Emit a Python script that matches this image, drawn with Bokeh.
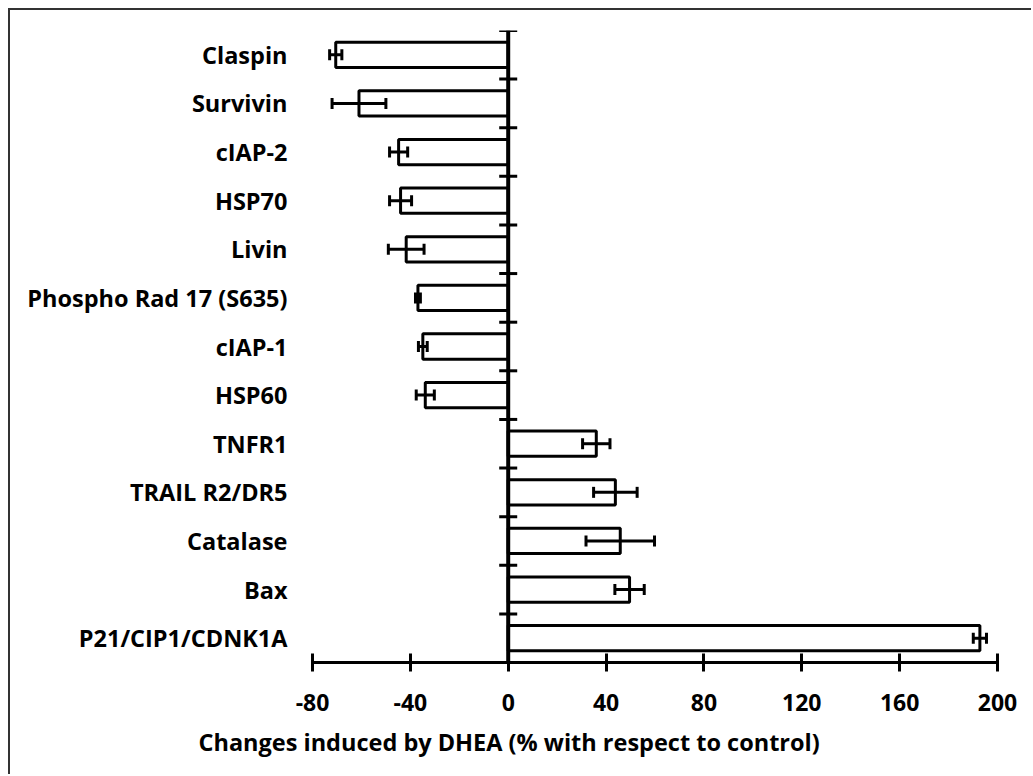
from bokeh.plotting import figure
from bokeh.models import Range1d, FixedTicker, Span, Whisker, TeeHead, ColumnDataSource, Title
from bokeh.embed import file_html
from bokeh.resources import INLINE

categories = ["Claspin", "Survivin", "cIAP-2", "HSP70", "Livin", "Phospho Rad 17 (S635)",
              "cIAP-1", "HSP60", "TNFR1", "TRAIL R2/DR5", "Catalase", "Bax", "P21/CIP1/CDNK1A"]
values = [-70.5, -61.0, -44.8, -44.0, -41.7, -36.9, -34.9, -33.9, 36.0, 43.8, 45.8, 49.6, 192.8]
errors = [2.5, 11.0, 3.7, 4.5, 7.3, 1.0, 1.8, 3.7, 5.6, 8.9, 14.0, 6.0, 2.7]
x_ticks = [-80, -40, 0, 40, 80, 120, 160, 200]
x_tick_labels = ["-80", "-40", "0", "40", "80", "120", "160", "200"]
x_title = "Changes induced by DHEA (% with respect to control)"

FONT = "Open Sans"
OFF = 10                       # page offset of the canvas (margin + border)
W, H = 1033 - OFF, 776 - OFF
X0, X1 = -80, 200
FL, FR, FT, FB = 312 - OFF, 36, 30 - OFF, 114

n = len(categories)
idx = list(range(n))
src = ColumnDataSource(dict(y=idx, v=values, lo=[v - e for v, e in zip(values, errors)],
                            hi=[v + e for v, e in zip(values, errors)]))

p = figure(width=W, height=H, output_backend="svg", toolbar_location=None,
           x_range=Range1d(X0, X1), y_range=Range1d(n - 0.5, -0.5),
           min_border_left=FL, min_border_right=FR, min_border_top=FT, min_border_bottom=FB)
p.styles = {"margin-left": "8px", "margin-top": "8px",
            "border-left": "2px solid #333333", "border-top": "2px solid #333333"}
p.outline_line_color = None
p.grid.visible = False
p.background_fill_color = "white"
p.border_fill_color = "white"

# bars
p.hbar(y="y", left=0, right="v", height=0.52, source=src, fill_color="white",
       line_color="black", line_width=3)

# error bars
wh = Whisker(source=src, base="y", lower="lo", upper="hi", dimension="width",
             line_color="black", line_width=3, level="overlay",
             lower_head=TeeHead(size=11, line_width=3, line_color="black"),
             upper_head=TeeHead(size=11, line_width=3, line_color="black"))
p.add_layout(wh)

# vertical axis line at 0 with category boundary ticks
p.add_layout(Span(location=0, dimension="height", line_color="black", line_width=4))
px_per_unit = (W - FL - FR) / (X1 - X0)
half = 9 / px_per_unit
bounds = [i - 0.5 for i in range(n + 1)]
p.segment(x0=[-half] * len(bounds), x1=[half] * len(bounds), y0=bounds, y1=bounds,
          line_color="black", line_width=3)

# x axis
xa = p.xaxis[0]
xa.ticker = FixedTicker(ticks=x_ticks)
xa.major_label_overrides = {t: s for t, s in zip(x_ticks, x_tick_labels)}
xa.axis_line_width = 3
xa.axis_line_color = "black"
xa.major_tick_line_width = 3
xa.major_tick_in = 9
xa.major_tick_out = 9
xa.minor_tick_line_color = None
xa.major_label_text_font = FONT
xa.major_label_text_font_style = "bold"
xa.major_label_text_font_size = "23px"
xa.major_label_text_color = "black"
xa.major_label_standoff = 22

# axis title below, left-aligned with an offset so that it is centred on zero
p.add_layout(Title(text=x_title, align="left", offset=-114, text_font=FONT,
                   text_font_style="bold", text_font_size="23.5px",
                   text_color="black", standoff=20), "below")

# y axis labels
ya = p.yaxis[0]
ya.ticker = FixedTicker(ticks=idx)
ya.major_label_overrides = {i: c for i, c in enumerate(categories)}
ya.axis_line_color = None
ya.major_tick_line_color = None
ya.minor_tick_line_color = None
ya.major_tick_out = 0
ya.major_label_standoff = 25
ya.major_label_text_font = FONT
ya.major_label_text_font_style = "bold"
ya.major_label_text_font_size = "23.5px"
ya.major_label_text_color = "black"

open("out.html", "w").write(file_html(p, INLINE))
